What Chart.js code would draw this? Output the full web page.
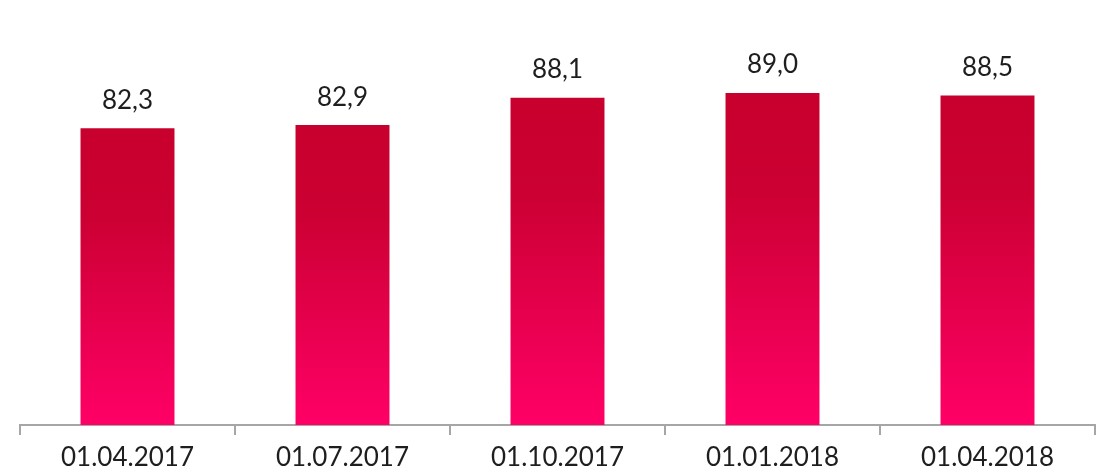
<!DOCTYPE html>
<html>
<head>
<meta charset="utf-8">
<script src="https://cdn.jsdelivr.net/npm/chart.js@4/dist/chart.umd.min.js"></script>
<style>
    html, body { margin: 0; padding: 0; background: #fff; }
    #wrap { width: 1104px; height: 472px; }
</style>
</head>
<body>
<div id="wrap"><canvas id="barChart" width="1104" height="472"></canvas></div>
<script>
let categories = ["01.04.2017", "01.07.2017", "01.10.2017", "01.01.2018", "01.04.2018"];
let values = [82.3, 82.9, 88.1, 89.0, 88.5];
let valueLabels = ["82,3", "82,9", "88,1", "89,0", "88,5"];

let fontName = "Lato, 'Open Sans', sans-serif";

function barGradient(context) {
    let chart = context.chart;
    let area = chart.chartArea;
    if (!area) return "#e0004a";
    let yScale = chart.scales.y;
    let top = yScale.getPixelForValue(values[context.dataIndex]);
    let g = chart.ctx.createLinearGradient(0, top, 0, area.bottom);
    g.addColorStop(0, "#c8002d");
    g.addColorStop(0.3, "#cc0033");
    g.addColorStop(1, "#ff0066");
    return g;
}

// draw the "82,3" style labels above each bar
const valueLabelPlugin = {
    id: "valueLabels",
    afterDatasetsDraw(chart) {
        let ctx = chart.ctx;
        let meta = chart.getDatasetMeta(0);
        ctx.save();
        ctx.font = "26px " + fontName;
        ctx.fillStyle = "#1e1e1e";
        ctx.textAlign = "center";
        ctx.textBaseline = "bottom";
        meta.data.forEach((bar, i) => {
            ctx.fillText(valueLabels[i], bar.x, bar.y - 15);
        });
        ctx.restore();
    }
};

let barChart = new Chart(document.getElementById("barChart"), {
    type: "bar",
    data: {
        labels: categories,
        datasets: [{
            data: values,
            backgroundColor: barGradient,
            borderWidth: 0,
            categoryPercentage: 1,
            barPercentage: 0.437
        }]
    },
    options: {
        responsive: false,
        animation: false,
        layout: { padding: { left: 20, right: 9, top: 35, bottom: -9 } },
        plugins: {
            legend: { display: false },
            tooltip: { enabled: false }
        },
        scales: {
            x: {
                grid: {
                    offset: true,
                    drawOnChartArea: false,
                    color: "#a6a6a6",
                    lineWidth: 2,
                    tickLength: 10
                },
                border: { display: true, color: "#a6a6a6", width: 2 },
                ticks: {
                    color: "#1e1e1e",
                    font: { family: fontName, size: 26, lineHeight: 1 },
                    padding: 10,
                    maxRotation: 0
                }
            },
            y: {
                display: false,
                min: 26,
                max: 100
            }
        }
    },
    plugins: [valueLabelPlugin]
});
</script>
</body>
</html>
